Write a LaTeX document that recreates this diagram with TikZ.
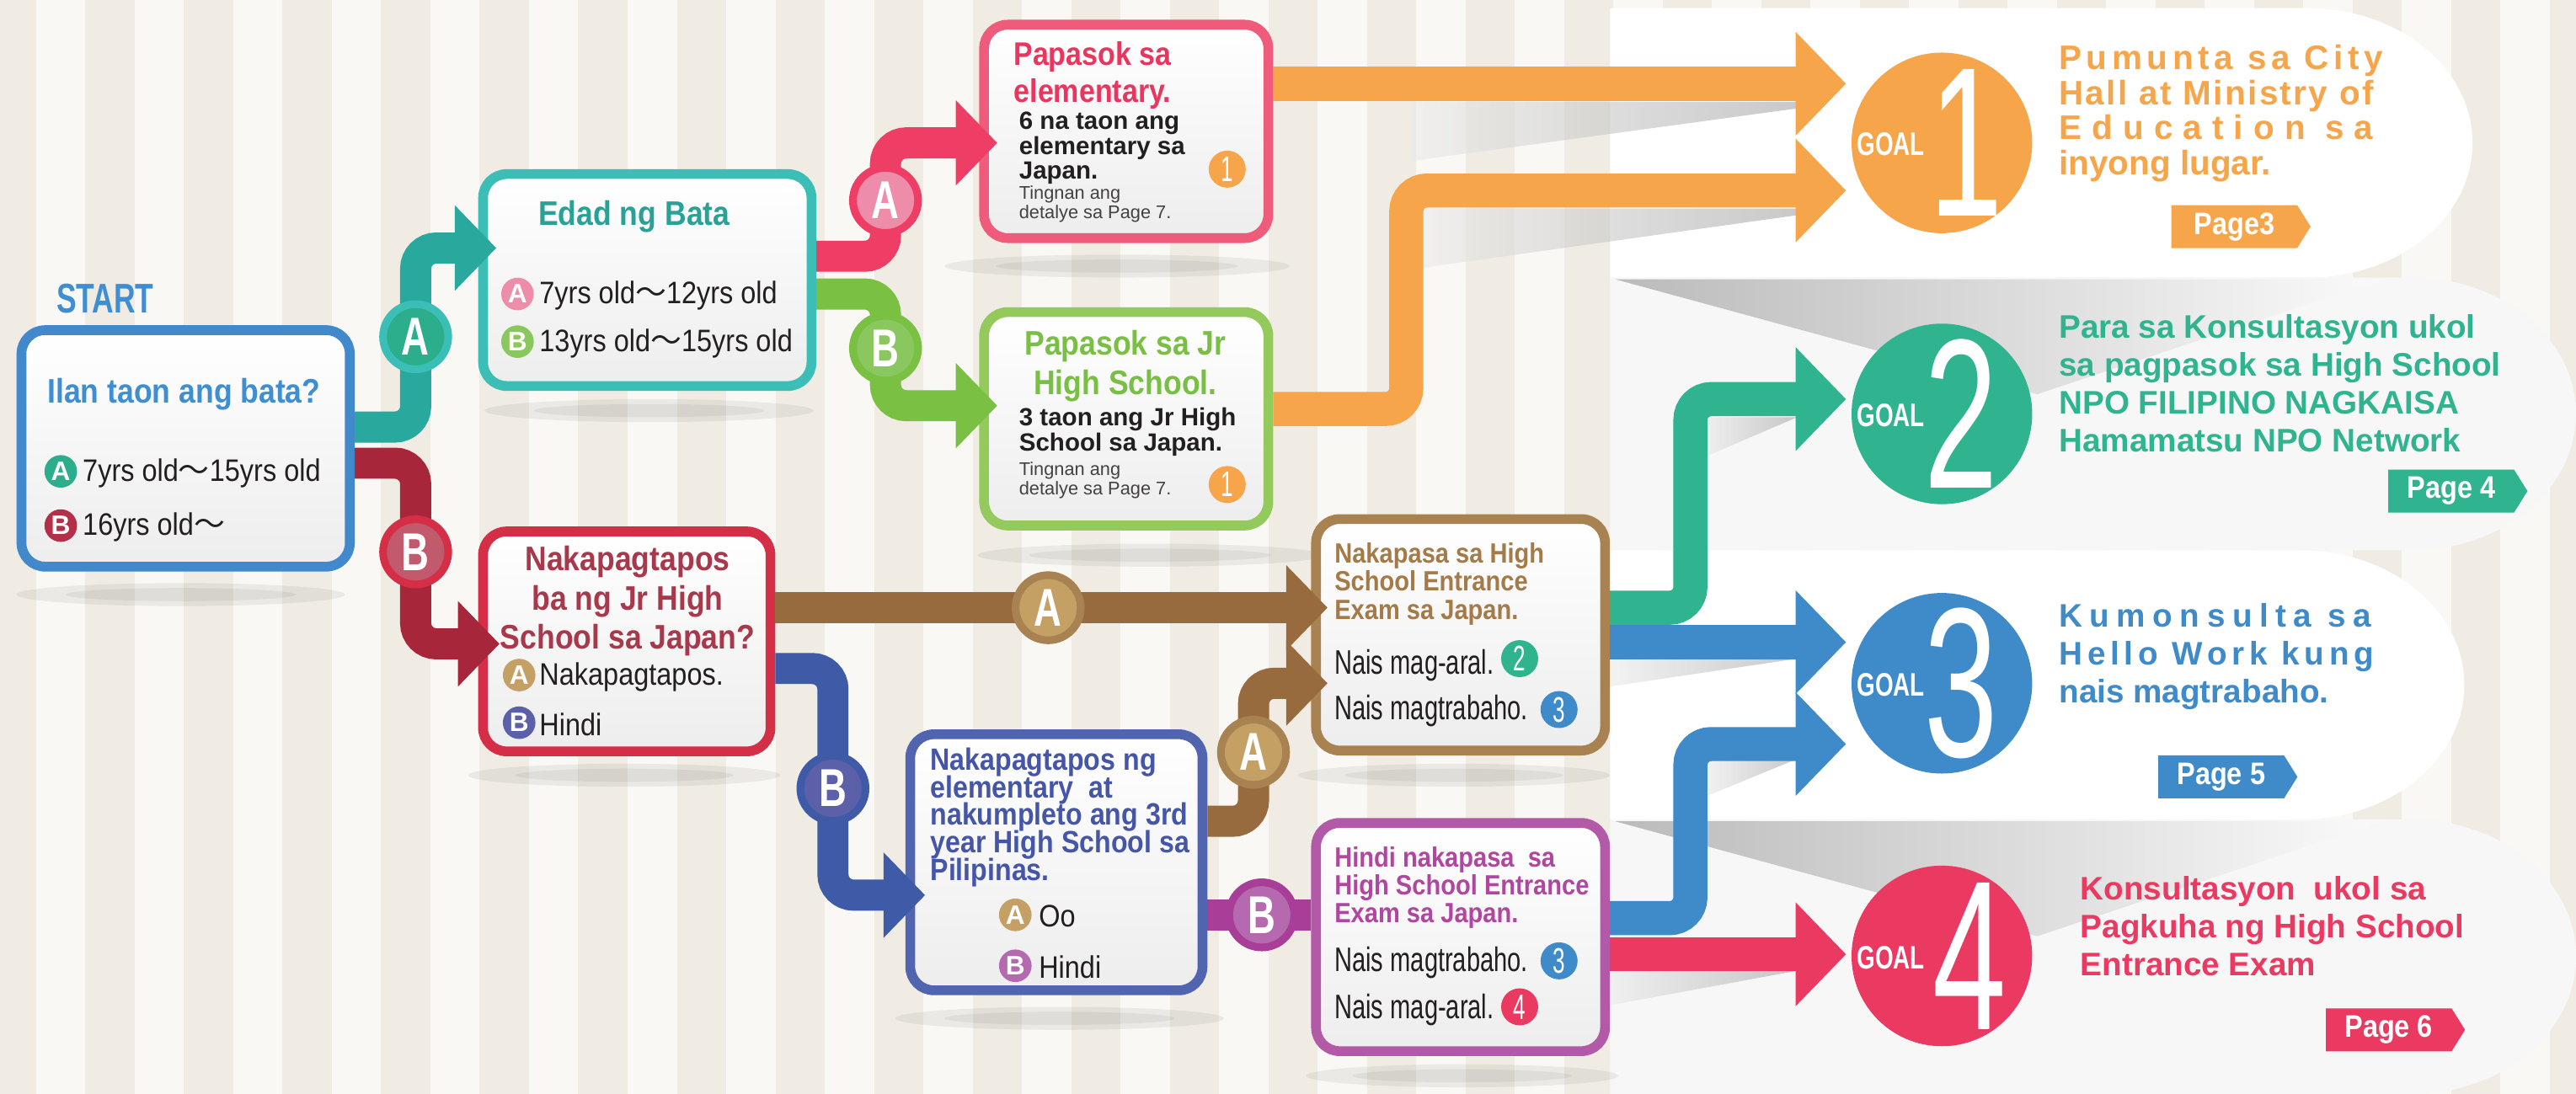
\documentclass[tikz,border=0pt]{standalone}
\usepackage{fontspec}
\setmainfont{Liberation Sans}
\newfontfamily\condf[FakeStretch=0.88]{Liberation Sans}
\newfontfamily\narrowf[FakeStretch=0.72]{Liberation Sans}
\newfontfamily\numf[FakeStretch=0.62]{Liberation Sans}
\newfontfamily\cjkf{Noto Sans CJK JP}
\newcommand\wave{{\cjkf ～}}
\newcommand\tightlines{\lineskiplimit=-5pt\relax}
\usetikzlibrary{arrows.meta,calc,shapes.symbols}

\definecolor{bgbase}{HTML}{F0ECE4}
\definecolor{bglight}{HTML}{FAF8F4}
\definecolor{ink}{HTML}{231F20}
\definecolor{startblue}{HTML}{4189CB}
\definecolor{starttxt}{HTML}{3F8ED2}
\definecolor{tealline}{HTML}{29A99D}
\definecolor{tealbox}{HTML}{3BBEB6}
\definecolor{tealtxt}{HTML}{2AA197}
\definecolor{redline}{HTML}{A82639}
\definecolor{redbox}{HTML}{D52F48}
\definecolor{redtxt}{HTML}{A8384B}
\definecolor{pinkline}{HTML}{EF3E66}
\definecolor{pinkbox}{HTML}{EF5C7B}
\definecolor{pinktxt}{HTML}{E8365F}
\definecolor{greenline}{HTML}{7AC143}
\definecolor{greenbox}{HTML}{94C95B}
\definecolor{greentxt}{HTML}{79BF43}
\definecolor{brownline}{HTML}{986B3E}
\definecolor{brownbox}{HTML}{A98252}
\definecolor{browntxt}{HTML}{A47A48}
\definecolor{navyline}{HTML}{3F5BA8}
\definecolor{navybox}{HTML}{5064AF}
\definecolor{navytxt}{HTML}{4556A8}
\definecolor{violetline}{HTML}{A93E98}
\definecolor{violetbox}{HTML}{B259A8}
\definecolor{violettxt}{HTML}{B0469F}
\definecolor{goalorange}{HTML}{F6A54A}
\definecolor{goalgreen}{HTML}{2FB48F}
\definecolor{goalblue}{HTML}{3F8BCA}
\definecolor{goalred}{HTML}{EB3A62}
\definecolor{optteal}{HTML}{2CAE8C}
\definecolor{optdred}{HTML}{B33148}
\definecolor{optpink}{HTML}{EE8DA9}
\definecolor{optgreen}{HTML}{8BC75F}
\definecolor{opttan}{HTML}{C5A064}
\definecolor{optnavy}{HTML}{5B60A8}
\definecolor{optviolet}{HTML}{B569AE}

\tikzset{
  qbox/.style={draw, line width=3.3pt, rounded corners=8pt, top color=white, bottom color=black!7, inner sep=0pt},
  flow/.style={line width=10.5pt, rounded corners=7pt, -{Triangle[length=14pt,width=28pt]}},
  plainflow/.style={line width=10.5pt, rounded corners=7pt},
  goalflow/.style={line width=11.5pt, rounded corners=7pt, -{Triangle[length=17pt,width=34pt]}},
  badge/.style={circle, minimum size=22pt, inner sep=0pt, line width=2.6pt, text=white, font=\narrowf\bfseries\fontsize{18}{18}\selectfont},
  optdot/.style={circle, minimum size=11pt, inner sep=0pt, text=white, font=\bfseries\fontsize{9}{9}\selectfont},
  numdot/.style={circle, minimum size=12.5pt, inner sep=0pt, text=white, font=\numf\fontsize{12}{12}\selectfont},
  goaldisc/.style={circle, minimum size=61pt, inner sep=0pt},
  goalword/.style={inner sep=0pt, text=white, font=\narrowf\bfseries\fontsize{11}{11}\selectfont},
  goalnum/.style={inner sep=0pt, text=white, font=\numf\fontsize{72}{72}\selectfont},
  goaltxt/.style={inner sep=0pt, anchor=north west, align=left, font=\bfseries\fontsize{11}{12.8}\selectfont},
  pagetag/.style={signal, signal to=east, signal pointer angle=116, minimum width=47pt, minimum height=14.5pt, inner sep=1pt, text=white, font=\condf\bfseries\fontsize{10.5}{10.5}\selectfont},
  qtitle/.style={inner sep=0pt, align=center, font=\condf\bfseries\fontsize{11.5}{13.3}\selectfont\tightlines},
  qsub/.style={inner sep=0pt, anchor=north west, align=left, font=\condf\bfseries\fontsize{9.4}{9.5}\selectfont\tightlines},
  opttxt/.style={inner sep=0pt, anchor=west, text=ink, font=\condf\fontsize{10.5}{12}\selectfont},
  tallopt/.style={inner sep=0pt, anchor=west, text=ink, font=\narrowf\fontsize{11.5}{12}\selectfont},
  bodytxt/.style={inner sep=0pt, anchor=north west, align=left, text=ink, font=\bfseries\fontsize{8.4}{8.4}\selectfont\tightlines},
  smalltxt/.style={inner sep=0pt, anchor=north west, align=left, text=ink!85, font=\fontsize{6.2}{6.4}\selectfont},
}

\begin{document}
\begin{tikzpicture}[x=0.0195026cm, y=-0.0195026cm]
\useasboundingbox (0,0) rectangle (1568,666);

% background stripes
\fill[bgbase] (0,0) rectangle (1568,666);
\foreach \s in {0,...,25}
  {
    \fill[bglight] (\s*60+22,0) rectangle ++(30,666);
  }

% goal panels
\fill[white] (980,5) -- (1405,5) arc[start angle=-90, end angle=90, x radius=100, y radius=82] -- (980,169) -- cycle;
\fill[black!3] (980,169) -- (1468,169) arc[start angle=-90, end angle=90, x radius=100, y radius=83] -- (980,335) -- cycle;
\fill[white] (980,335) -- (1400,335) arc[start angle=-90, end angle=90, x radius=100, y radius=82] -- (980,499) -- cycle;
\fill[black!3] (980,499) -- (1468,499) arc[start angle=-90, end angle=90, x radius=100, y radius=83.5] -- (980,666) -- cycle;

% cast shadows
\shade[left color=black!55, right color=white, opacity=.45] (983,170) -- (1450,170) -- (1240,240) -- cycle;
\shade[left color=black!55, right color=white, opacity=.45] (983,500) -- (1450,500) -- (1240,570) -- cycle;
\shade[left color=black!8, right color=black!35, opacity=.6] (859,62) -- (1094,62) -- (1094,66) -- (859,98) -- cycle;
\shade[left color=black!8, right color=black!35, opacity=.6] (866,127) -- (1094,127) -- (1094,131) -- (866,163) -- cycle;
\shade[left color=black!8, right color=black!35, opacity=.6] (1038,254) -- (1094,254) -- (1038,278) -- cycle;
\shade[left color=black!8, right color=black!35, opacity=.6] (980,401) -- (1094,401) -- (980,418) -- cycle;
\shade[left color=black!8, right color=black!35, opacity=.6] (1038,462) -- (1094,462) -- (1038,485) -- cycle;
\shade[left color=black!8, right color=black!35, opacity=.6] (980,591) -- (1094,591) -- (980,612) -- cycle;

% box shadows
\foreach \cx/\cy/\rx in {110/362/100, 395/250/100, 680/162/105, 700/338/105, 380/472/95, 645/620/100, 885/472/95, 890/655/95}
  {
    \fill[black, opacity=.06] (\cx,\cy) ellipse [x radius=\rx, y radius=7];
    \fill[black, opacity=.05] (\cx,\cy) ellipse [x radius=\rx*0.7, y radius=4];
  }

% question boxes
\node[qbox, draw=startblue, minimum width=110.9pt, minimum height=79.9pt] (start) at (113,273) {};
\node[qbox, draw=tealbox, minimum width=110.9pt, minimum height=71.6pt] (edad) at (394,170.5) {};
\node[qbox, draw=redbox, minimum width=97.1pt, minimum height=74.3pt] (jrq) at (381.5,390.5) {};
\node[qbox, draw=pinkbox, minimum width=96pt, minimum height=72.1pt] (elem) at (685.5,80) {};
\node[qbox, draw=greenbox, minimum width=96pt, minimum height=72.1pt] (jrhs) at (685.5,255) {};
\node[qbox, draw=navybox, minimum width=98.7pt, minimum height=86.5pt] (phil) at (643,525) {};
\node[qbox, draw=brownbox, minimum width=97.6pt, minimum height=78.2pt] (pasa) at (889,386.5) {};
\node[qbox, draw=violetbox, minimum width=97.6pt, minimum height=77.1pt] (hindi) at (889,570.5) {};

% goal discs
\node[goaldisc, fill=goalorange] (g1) at (1182,87) {};
\node[goaldisc, fill=goalgreen] (g2) at (1182,252) {};
\node[goaldisc, fill=goalblue] (g3) at (1182,416) {};
\node[goaldisc, fill=goalred] (g4) at (1182,582) {};

% badge spots
\coordinate (pA1) at (253,205);
\coordinate (pB1) at (253,336);
\coordinate (pA2) at (539,122);
\coordinate (pB2) at (539,212);
\coordinate (pA3) at (638,370);
\coordinate (pB3) at (507,480);
\coordinate (pA4) at (763,458);
\coordinate (pB4) at (768,557);

% connectors
\draw[flow, tealline] ($(start.east)+(0,-13)$) -| (pA1) |- ($(edad.west)+(11,-19.5)$);
\draw[flow, redline] ($(start.east)+(0,9)$) -| (pB1) |- ($(jrq.west)+(13,1.5)$);
\draw[flow, pinkline] ($(edad.east)+(0,-14.5)$) -| (pA2) |- ($(elem.west)+(11,7)$);
\draw[flow, greenline] ($(edad.east)+(0,8.5)$) -| (pB2) |- ($(jrhs.west)+(11,-8)$);
\draw[flow, brownline] ($(jrq.east)+(0,-20.5)$) -- ($(pasa.west)+(10,-16.5)$);
\draw[flow, navyline] ($(jrq.east)+(0,16.5)$) -| (pB3) |- ($(phil.west)+(12,20)$);
\draw[flow, brownline] ($(phil.east)+(0,-25)$) -| (pA4) |- ($(pasa.west)+(10,29.5)$);
\draw[plainflow, violetline] ($(phil.east)+(0,32)$) -- ($(hindi.west)+(0,-13.5)$);
\draw[goalflow, goalorange] ($(elem.east)+(0,-29)$) -- ($(g1.west)+(-3,-36)$);
\draw[goalflow, goalorange] ($(jrhs.east)+(0,-6)$) -- ++(81,0) |- ($(g1.west)+(-3,29)$);
\draw[goalflow, goalgreen] ($(pasa.east)+(0,-16.5)$) -- ++(49,0) |- ($(g2.west)+(-3,-9)$);
\draw[goalflow, goalblue] ($(pasa.east)+(0,4.5)$) -- ($(g3.west)+(-3,-25)$);
\draw[goalflow, goalblue] ($(hindi.east)+(0,-11.5)$) -- ++(49,0) |- ($(g3.west)+(-3,37)$);
\draw[goalflow, goalred] ($(hindi.east)+(0,10.5)$) -- ($(g4.west)+(-3,-1)$);

% badges
\node[badge, draw=tealbox, fill=optteal] (bA1) at (pA1) {A};
\node[badge, draw=redbox, fill=optdred!80] (bB1) at (pB1) {B};
\node[badge, draw=pinkline, fill=optpink] (bA2) at (pA2) {A};
\node[badge, draw=greenline, fill=optgreen] (bB2) at (pB2) {B};
\node[badge, draw=brownbox, fill=opttan] (bA3) at (pA3) {A};
\node[badge, draw=navyline, fill=optnavy] (bB3) at (pB3) {B};
\node[badge, draw=brownbox, fill=opttan] (bA4) at (pA4) {A};
\node[badge, draw=violetline, fill=optviolet] (bB4) at (pB4) {B};

% start box
\node[inner sep=0pt, text=starttxt, font=\narrowf\bfseries\fontsize{14}{14}\selectfont] (startlbl) at (64,182) {START};
\node[qtitle, text=starttxt] (q1) at (112,240) {Ilan taon ang bata?};
\node[optdot, fill=optteal] (o1a) at (37,287) {A};
\node[opttxt] (t1a) at (50,288) {7yrs old\wave 15yrs old};
\node[optdot, fill=optdred] (o1b) at (37,320) {B};
\node[opttxt] (t1b) at (50,321) {16yrs old\wave};

% age box
\node[qtitle, text=tealtxt] (q2) at (386,132) {Edad ng Bata};
\node[optdot, fill=optpink] (o2a) at (315,179) {A};
\node[opttxt] (t2a) at (328,180) {7yrs old\wave 12yrs old};
\node[optdot, fill=optgreen] (o2b) at (315,208) {B};
\node[opttxt] (t2b) at (328,209) {13yrs old\wave 15yrs old};

% elementary box
\node[qtitle, text=pinktxt, font=\condf\bfseries\fontsize{11}{12.6}\selectfont\tightlines] (q3) at (665,46) {Papasok sa\\elementary.};
\node[bodytxt] (d3) at (620,68) {6 na taon ang\\elementary sa\\Japan.};
\node[smalltxt] (s3) at (620,113) {Tingnan ang\\detalye sa Page 7.};
\node[numdot, fill=goalorange] (n3) at (747,103) {1};

% jr high box
\node[qtitle, text=greentxt] (q4) at (685,223) {Papasok sa Jr\\High School.};
\node[bodytxt] (d4) at (620,248) {3 taon ang Jr High\\School sa Japan.};
\node[smalltxt] (s4) at (620,281) {Tingnan ang\\detalye sa Page 7.};
\node[numdot, fill=goalorange] (n4) at (747,295) {1};

% graduated box
\node[qtitle, text=redtxt] (q5) at (382,366) {Nakapagtapos\\ba ng Jr High\\School sa Japan?};
\node[optdot, fill=opttan] (o5a) at (316,411) {A};
\node[opttxt] (t5a) at (328,412) {Nakapagtapos.};
\node[optdot, fill=optnavy] (o5b) at (316,440) {B};
\node[opttxt] (t5b) at (328,441) {Hindi};

% philippines box
\node[qsub, text=navytxt, font=\condf\bfseries\fontsize{10.4}{9.3}\selectfont\tightlines] (q6) at (566,455) {Nakapagtapos ng\\elementary\ \ at\\nakumpleto ang 3rd\\year High School sa\\Pilipinas.};
\node[optdot, fill=opttan] (o6a) at (618,557) {A};
\node[opttxt] (t6a) at (632,558) {Oo};
\node[optdot, fill=optviolet] (o6b) at (618,588) {B};
\node[opttxt] (t6b) at (632,589) {Hindi};

% passed box
\node[qsub, text=browntxt] (q7) at (812,330) {Nakapasa sa High\\School Entrance\\Exam sa Japan.};
\node[tallopt] (t7a) at (812,405) {Nais mag-aral.};
\node[numdot, fill=goalgreen] (n7a) at (925,401) {2};
\node[tallopt] (t7b) at (812,433) {Nais magtrabaho.};
\node[numdot, fill=goalblue] (n7b) at (949,432) {3};

% failed box
\node[qsub, text=violettxt] (q8) at (812,515) {Hindi nakapasa\ \ sa\\High School Entrance\\Exam sa Japan.};
\node[tallopt] (t8a) at (812,586) {Nais magtrabaho.};
\node[numdot, fill=goalblue] (n8a) at (949,585) {3};
\node[tallopt] (t8b) at (812,615) {Nais mag-aral.};
\node[numdot, fill=goalred] (n8b) at (925,613) {4};

% goals
\node[goalword] (w1) at (1151,88) {GOAL};
\node[goalnum] (k1) at (1197,87) {1};
\node[goalword] (w2) at (1151,253) {GOAL};
\node[goalnum] (k2) at (1194,252) {2};
\node[goalword] (w3) at (1151,417) {GOAL};
\node[goalnum] (k3) at (1194,416) {3};
\node[goalword] (w4) at (1151,583) {GOAL};
\node[goalnum] (k4) at (1199,582) {4};

\node[goaltxt, text=goalorange, font=\bfseries\fontsize{11.5}{11.8}\selectfont] (x1) at (1253,27)
  {{\addfontfeature{LetterSpace=14}Pumunta sa City}\\{\addfontfeature{LetterSpace=6}Hall at Ministry of}\\{\addfontfeature{LetterSpace=30}Education sa}\\inyong lugar.};
\node[goaltxt, text=goalgreen] (x2) at (1253,191)
  {Para sa Konsultasyon ukol\\sa pagpasok sa High School\\NPO FILIPINO NAGKAISA\\Hamamatsu NPO Network};
\node[goaltxt, text=goalblue] (x3) at (1253,367)
  {{\addfontfeature{LetterSpace=22}Kumonsulta sa}\\{\addfontfeature{LetterSpace=15}Hello Work kung}\\nais magtrabaho.};
\node[goaltxt, text=goalred] (x4) at (1266,533)
  {Konsultasyon\ \ ukol sa\\Pagkuha ng High School\\Entrance Exam};

\node[pagetag, fill=goalorange] (pg3) at (1360,138) {Page3};
\node[pagetag, fill=goalgreen] (pg4) at (1492,299) {Page 4};
\node[pagetag, fill=goalblue] (pg5) at (1352,473) {Page 5};
\node[pagetag, fill=goalred] (pg6) at (1454,627) {Page 6};
\end{tikzpicture}
\end{document}
